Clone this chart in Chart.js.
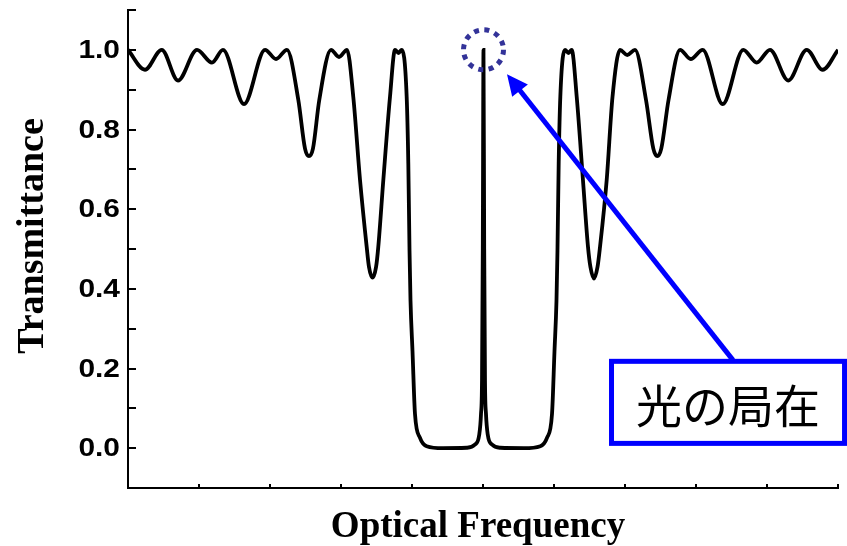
<!DOCTYPE html>
<html>
<head>
<meta charset="utf-8">
<script src="https://cdn.jsdelivr.net/npm/chart.js@4.4.1/dist/chart.umd.min.js"></script>
<style>
  html, body { margin: 0; padding: 0; background: #ffffff; }
  #wrap { width: 847px; height: 546px; }
</style>
</head>
<body>
<div id="wrap"><canvas id="chart" width="847" height="546"></canvas></div>
<script>
// Transmission spectrum: optical frequency (arbitrary units, 0–10) and transmittance
const frequency = [
  0.000, 0.239, 0.475, 0.704, 0.972, 1.183, 1.338, 1.634, 1.930, 2.085,
  2.239, 2.399, 2.493, 2.549, 2.605, 2.694, 2.859, 2.972, 3.085, 3.173,
  3.268, 3.362, 3.394, 3.444, 3.494, 3.525, 3.596, 3.690, 3.761, 3.810,
  3.855, 3.925, 3.948, 3.965, 3.979, 4.007, 4.042, 4.113, 4.207, 4.437,
  4.770, 4.887, 4.948, 4.972, 4.986, 4.997, 5.007,
  5.017, 5.028, 5.042, 5.066, 5.127, 5.244, 5.577, 5.807, 5.901, 5.972,
  6.007, 6.035, 6.049, 6.066, 6.089, 6.155, 6.204, 6.249, 6.320, 6.408,
  6.479, 6.513, 6.563, 6.613, 6.648, 6.742, 6.824, 6.930, 7.032, 7.141,
  7.296, 7.399, 7.455, 7.511, 7.613, 7.775, 7.925, 8.094, 8.376, 8.666,
  8.855, 9.042, 9.300, 9.559, 9.784, 10.000
];
const transmittance = [
  1.000, 0.950, 1.000, 0.923, 1.000, 0.968, 1.000, 0.864, 1.000, 0.977,
  1.000, 0.874, 0.752, 0.733, 0.752, 0.874, 1.000, 0.982, 1.000, 0.882,
  0.673, 0.505, 0.455, 0.428, 0.455, 0.505, 0.673, 0.882, 1.000, 0.992,
  1.000, 0.882, 0.715, 0.496, 0.370, 0.244, 0.086, 0.026, 0.005, 0.000,
  0.001, 0.009, 0.035, 0.086, 0.169, 0.500, 1.000,
  0.500, 0.169, 0.086, 0.035, 0.009, 0.001, 0.000, 0.005, 0.026, 0.086,
  0.244, 0.370, 0.496, 0.715, 0.882, 1.000, 0.992, 1.000, 0.882, 0.673,
  0.505, 0.455, 0.426, 0.455, 0.505, 0.673, 0.882, 1.000, 0.987, 1.000,
  0.874, 0.752, 0.733, 0.752, 0.874, 1.000, 0.977, 1.000, 0.864, 1.000,
  0.968, 1.000, 0.923, 1.000, 0.950, 1.000
];
// Labelled transmittance ticks
const yTickValues = [0, 0.2, 0.4, 0.6, 0.8, 1.0];
const yTickLabels = ['0.0', '0.2', '0.4', '0.6', '0.8', '1.0'];

// Callout marking the defect-mode peak
const callout = {
  ring:  { x: 5.007, y: 1.0, radius: 20 },
  arrow: { from: [8.521, 0.221], to: [5.338, 0.939] },
  box:   { x0: 6.810, x1: 10.092, y0: 0.218, y1: 0.012 },
  text:  '光の局在'
};

const points = frequency.map((f, i) => ({ x: f, y: transmittance[i] }));

// Inward tick marks on both axes
const innerTicks = {
  id: 'innerTicks',
  afterDraw(chart) {
    const { ctx, chartArea, scales: { x, y } } = chart;
    ctx.save();
    ctx.strokeStyle = '#000';
    ctx.lineWidth = 2;
    ctx.beginPath();
    y.ticks.forEach(t => {
      const py = Math.round(y.getPixelForValue(t.value));
      ctx.moveTo(chartArea.left, py);
      ctx.lineTo(chartArea.left + 8, py);
    });
    x.ticks.forEach(t => {
      const px = Math.round(x.getPixelForValue(t.value));
      ctx.moveTo(px, chartArea.bottom);
      ctx.lineTo(px, chartArea.bottom - 4);
    });
    ctx.stroke();
    ctx.restore();
  }
};

// Tick labels on the transmittance axis (slightly widened bold sans)
const yLabels = {
  id: 'yLabels',
  afterDraw(chart) {
    const { ctx, chartArea, scales: { y } } = chart;
    ctx.save();
    ctx.fillStyle = '#000';
    ctx.font = 'bold 26px "Liberation Sans", Arial, sans-serif';
    ctx.textAlign = 'right';
    ctx.textBaseline = 'middle';
    yTickValues.forEach((v, i) => {
      const py = y.getPixelForValue(v);
      ctx.save();
      ctx.translate(chartArea.left - 8, py + 1);
      ctx.scale(1.15, 1);
      ctx.fillText(yTickLabels[i], 0, 0);
      ctx.restore();
    });
    ctx.restore();
  }
};

// Axis titles
const axisTitles = {
  id: 'axisTitles',
  afterDraw(chart) {
    const { ctx } = chart;
    ctx.save();
    ctx.fillStyle = '#000';
    ctx.textAlign = 'center';
    ctx.textBaseline = 'alphabetic';
    ctx.font = 'bold 37px "Liberation Serif", "Times New Roman", serif';
    ctx.fillText('Optical Frequency', 478, 537);
    ctx.font = 'bold 38px "Liberation Serif", "Times New Roman", serif';
    ctx.translate(43, 236);
    ctx.rotate(-Math.PI / 2);
    ctx.fillText('Transmittance', 0, 0);
    ctx.restore();
  }
};

// Dotted ring, arrow and boxed label
const calloutPlugin = {
  id: 'callout',
  afterDraw(chart) {
    const { ctx, scales: { x, y } } = chart;
    const X = v => x.getPixelForValue(v);
    const Y = v => y.getPixelForValue(v);
    ctx.save();

    // boxed label
    const b = callout.box;
    const bx0 = X(b.x0), bx1 = X(b.x1), by0 = Y(b.y0), by1 = Y(b.y1);
    ctx.fillStyle = '#fff';
    ctx.fillRect(bx0, by0, bx1 - bx0, by1 - by0);
    ctx.strokeStyle = '#0000ff';
    ctx.lineWidth = 5;
    ctx.strokeRect(bx0, by0, bx1 - bx0, by1 - by0);
    ctx.fillStyle = '#000';
    ctx.font = '46px "Noto Sans CJK JP", sans-serif';
    ctx.textAlign = 'center';
    ctx.textBaseline = 'middle';
    ctx.fillText(callout.text, (bx0 + bx1) / 2, (by0 + by1) / 2 + 3);

    // arrow
    const a = callout.arrow;
    const sx = X(a.from[0]), sy = Y(a.from[1]);
    const tx = X(a.to[0]), ty = Y(a.to[1]);
    const ang = Math.atan2(ty - sy, tx - sx);
    const headLen = 21, headHalf = 10;
    const baseX = tx - headLen * Math.cos(ang), baseY = ty - headLen * Math.sin(ang);
    ctx.strokeStyle = '#0000ff';
    ctx.lineWidth = 5;
    ctx.beginPath();
    ctx.moveTo(sx, sy);
    ctx.lineTo(baseX + 2 * Math.cos(ang), baseY + 2 * Math.sin(ang));
    ctx.stroke();
    ctx.fillStyle = '#0000ff';
    ctx.beginPath();
    ctx.moveTo(tx, ty);
    ctx.lineTo(baseX + headHalf * Math.sin(ang), baseY - headHalf * Math.cos(ang));
    ctx.lineTo(baseX - headHalf * Math.sin(ang), baseY + headHalf * Math.cos(ang));
    ctx.closePath();
    ctx.fill();

    // dotted ring
    const r = callout.ring;
    ctx.strokeStyle = '#333399';
    ctx.lineWidth = 5;
    ctx.setLineDash([5, 5.5]);
    ctx.beginPath();
    ctx.arc(X(r.x), Y(r.y), r.radius, 0, Math.PI * 2);
    ctx.stroke();
    ctx.restore();
  }
};

new Chart(document.getElementById('chart'), {
  type: 'line',
  data: {
    datasets: [{
      data: points,
      borderColor: '#000',
      borderWidth: 3.8,
      pointRadius: 0,
      fill: false,
      cubicInterpolationMode: 'monotone'
    }]
  },
  options: {
    responsive: false,
    animation: false,
    devicePixelRatio: 1,
    layout: { padding: { top: 10, right: 9, left: 0, bottom: 0 } },
    plugins: { legend: { display: false }, tooltip: { enabled: false } },
    scales: {
      x: {
        type: 'linear',
        min: 0, max: 10,
        grid: { display: false, drawTicks: false },
        border: { display: true, color: '#000', width: 2 },
        ticks: { display: false, stepSize: 1 },
        afterFit(s) { s.height = 58; s.paddingLeft = 0; s.paddingRight = 0; }
      },
      y: {
        type: 'linear',
        min: -0.1, max: 1.1,
        grid: { display: false, drawTicks: false },
        border: { display: true, color: '#000', width: 2 },
        ticks: { display: false, stepSize: 0.1, autoSkip: false },
        afterFit(s) { s.width = 128; s.paddingTop = 0; s.paddingBottom = 0; }
      }
    }
  },
  plugins: [innerTicks, yLabels, axisTitles, calloutPlugin]
});
</script>
</body>
</html>
